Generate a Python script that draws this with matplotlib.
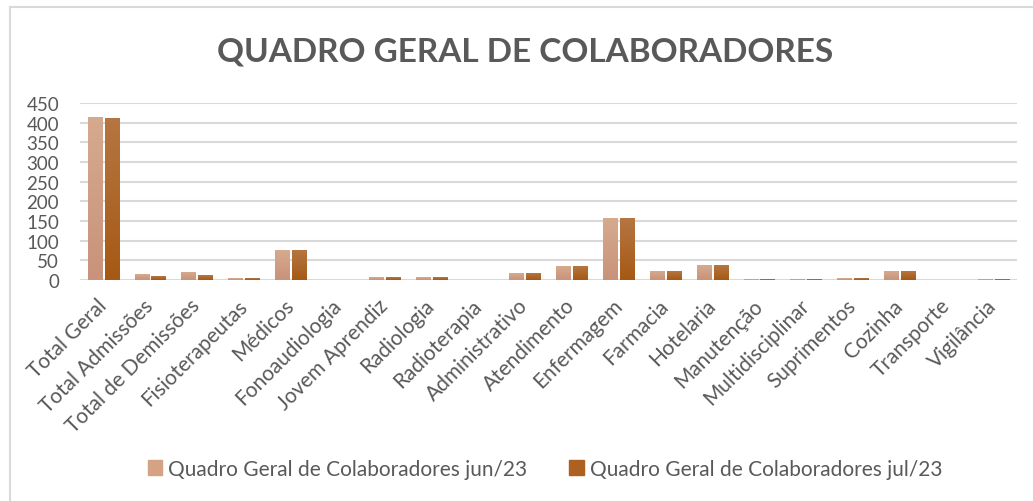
import matplotlib
matplotlib.use('Agg')
import matplotlib.pyplot as plt
from matplotlib.lines import Line2D
from matplotlib.patches import Patch
from matplotlib.colors import LinearSegmentedColormap
import numpy as np

plt.rcParams['font.family'] = ['Lato', 'DejaVu Sans']

categories = ['Total Geral', 'Total Admissões', 'Total de Demissões', 'Fisioterapeutas',
              'Médicos', 'Fonoaudiologia', 'Jovem Aprendiz', 'Radiologia', 'Radioterapia',
              'Administrativo', 'Atendimento', 'Enfermagem', 'Farmacia', 'Hotelaria',
              'Manutenção', 'Multidisciplinar', 'Suprimentos', 'Cozinha', 'Transporte',
              'Vigilância']
jun23 = [415, 14, 20, 4, 76, 0, 7, 7, 0, 17, 35, 157, 22, 37, 2, 2, 4, 22, 0, 2]
jul23 = [412, 9, 12, 4, 76, 0, 7, 7, 0, 17, 35, 157, 22, 37, 2, 2, 4, 22, 0, 2]
series_names = ['Quadro Geral de Colaboradores jun/23', 'Quadro Geral de Colaboradores jul/23']
yticks = [0, 50, 100, 150, 200, 250, 300, 350, 400, 450]

C_JUN = '#D4A384'
C_JUL = '#AE6020'
TXT = '#595959'
# gradients: bottom -> top
G_JUN = LinearSegmentedColormap.from_list('jun', ['#C8937A', '#D6AA8F'])
G_JUL = LinearSegmentedColormap.from_list('jul', ['#A65914', '#B57642'])

W, H = 1033, 502
fig = plt.figure(figsize=(W / 100, H / 100), dpi=100)

# frame of the chart area (left and top edges visible)
fig.add_artist(Line2D([10 / W, 10 / W], [0, 1 - 8 / H], color='#D9D9D9', lw=1.5))
fig.add_artist(Line2D([10 / W, 1], [1 - 8 / H, 1 - 8 / H], color='#D9D9D9', lw=1.5))

ax = fig.add_axes([80 / W, 1 - 281 / H, (1017 - 80) / W, (281 - 104) / H])

x = np.arange(len(categories))
bw = 0.31
grad = np.linspace(0, 1, 64).reshape(-1, 1)
for vals, off, col, cmap in [(jun23, -0.18, C_JUN, G_JUN), (jul23, 0.18, C_JUL, G_JUL)]:
    bars = ax.bar(x + off, vals, bw, color=col, zorder=3)
    for b in bars:
        if b.get_height() <= 0:
            continue
        bx, by = b.get_x(), b.get_y()
        im = ax.imshow(grad, cmap=cmap, origin='lower', aspect='auto', zorder=4,
                       extent=[bx, bx + b.get_width(), by, by + b.get_height()])
        im.set_clip_path(b)

ax.set_xlim(-0.5, len(categories) - 0.5)
ax.set_ylim(0, 450)
ax.set_yticks(yticks)
ax.yaxis.grid(True, color='#D9D9D9', lw=1.5, zorder=0)
ax.set_axisbelow(True)
for s in ax.spines.values():
    s.set_visible(False)
ax.tick_params(axis='y', length=0, labelsize=13.5, colors=TXT, pad=15)
ax.tick_params(axis='x', length=0, labelsize=15, colors=TXT, pad=16)
ax.set_xticks(x)
ax.set_xticklabels(categories, rotation=45, ha='right', va='center', rotation_mode='anchor')

fig.text(525 / W, 1 - 52 / H, 'QUADRO GERAL DE COLABORADORES', ha='center', va='center',
         fontsize=24, fontweight='bold', color=TXT)

handles = [Patch(color=C_JUN), Patch(color=C_JUL)]
fig.legend(handles, series_names, loc='center', bbox_to_anchor=(545 / W, 1 - 470 / H),
           ncol=2, frameon=False, fontsize=15, labelcolor=TXT, handlelength=0.7,
           handleheight=0.7, handletextpad=0.3, columnspacing=2.0)

fig.savefig('out.png', dpi=100)
